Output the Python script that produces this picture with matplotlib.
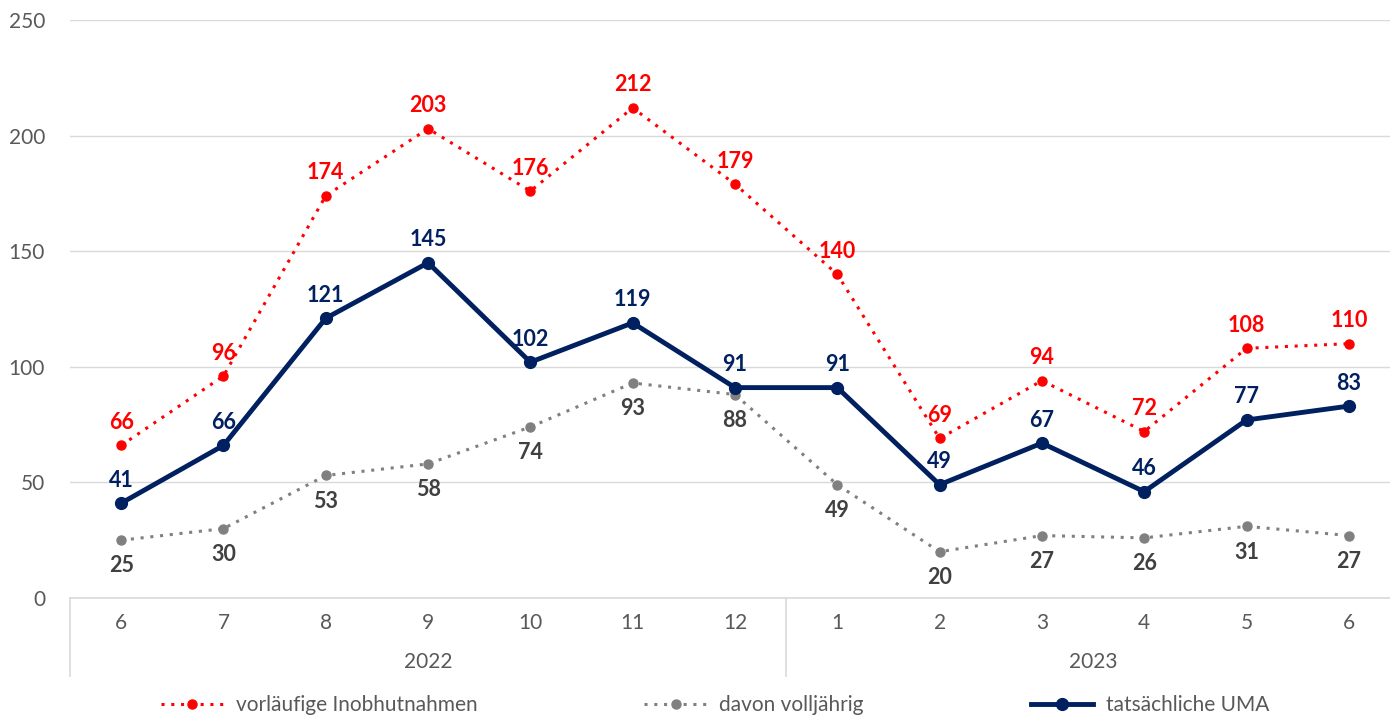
import matplotlib.pyplot as plt
import matplotlib.transforms as mtransforms

plt.rcParams['font.family'] = ['Lato', 'DejaVu Sans']

# ----------------------------------
# data
# ----------------------------------
months = ["6", "7", "8", "9", "10", "11", "12", "1", "2", "3", "4", "5", "6"]
years = ["2022", "2023"]
year_spans = [(0, 6), (7, 12)]

vorlaeufig = [66, 96, 174, 203, 176, 212, 179, 140, 69, 94, 72, 108, 110]
volljaehrig = [25, 30, 53, 58, 74, 93, 88, 49, 20, 27, 26, 31, 27]
uma = [41, 66, 121, 145, 102, 119, 91, 91, 49, 67, 46, 77, 83]

RED = "#FF0000"
GREY = "#808080"
NAVY = "#002060"
TXT = "#595959"

W, H = 1390, 716
fig = plt.figure(figsize=(W / 100, H / 100), dpi=100)
# axes: left edge 70px, y=0 at 598px, y=250 at 20px, category step ~102.3px
ax = fig.add_axes([70 / W, (H - 598) / H, 1330 / W, 578 / H])

x = list(range(len(months)))

ax.plot(x, vorlaeufig, color=RED, linestyle=(0, (1, 2.2)), linewidth=2.2,
        marker="o", markersize=6.5, label="vorläufige Inobhutnahmen", zorder=3)
ax.plot(x, volljaehrig, color=GREY, linestyle=(0, (1, 2.2)), linewidth=2.2,
        marker="o", markersize=6.5, label="davon volljährig", zorder=2)
ax.plot(x, uma, color=NAVY, linestyle="-", linewidth=3.5,
        marker="o", markersize=8.5, label="tatsächliche UMA", zorder=4)

# data labels
for i in x:
    ax.annotate(str(vorlaeufig[i]), (i, vorlaeufig[i]), xytext=(0, 9),
                textcoords="offset points", ha="center", va="bottom",
                color=RED, fontsize=15.5, fontweight="bold")
    ax.annotate(str(uma[i]), (i, uma[i]), xytext=(0, 9),
                textcoords="offset points", ha="center", va="bottom",
                color=NAVY, fontsize=15.5, fontweight="bold")
    ax.annotate(str(volljaehrig[i]), (i, volljaehrig[i]), xytext=(0, -11),
                textcoords="offset points", ha="center", va="top",
                color="#404040", fontsize=15.5, fontweight="bold")

ax.set_xlim(-0.5, 12.5)
ax.set_ylim(0, 250)
ax.set_yticks([0, 50, 100, 150, 200, 250])
ax.yaxis.grid(True, color="#D9D9D9", linewidth=1)
ax.set_axisbelow(True)

for s in ["top", "right", "left"]:
    ax.spines[s].set_visible(False)
ax.spines["bottom"].set_color("#D9D9D9")
ax.spines["bottom"].set_linewidth(1.2)

ax.tick_params(axis="y", length=0, pad=18, labelsize=15, labelcolor=TXT)
ax.set_xticks(x)
ax.set_xticklabels(months)
ax.tick_params(axis="x", length=0, pad=11, labelsize=15, labelcolor=TXT)

# year labels and separators below the axis
trans = mtransforms.blended_transform_factory(ax.transData, ax.transAxes)
for label, (a, b) in zip(years, year_spans):
    ax.text((a + b) / 2, -64 / 578, label, transform=trans, ha="center",
            va="center", fontsize=15, color=TXT)
for sep in [-0.5, 6.5]:
    ax.plot([sep, sep], [0, -78 / 578], transform=trans, color="#D9D9D9",
            linewidth=1.2, clip_on=False)

fig.legend(loc="center", bbox_to_anchor=(715 / W, 1 - 705 / H), ncol=3, frameon=False,
           fontsize=15, labelcolor=TXT, handlelength=3, columnspacing=8,
           handletextpad=0.6)

fig.savefig("out.png", dpi=100)
